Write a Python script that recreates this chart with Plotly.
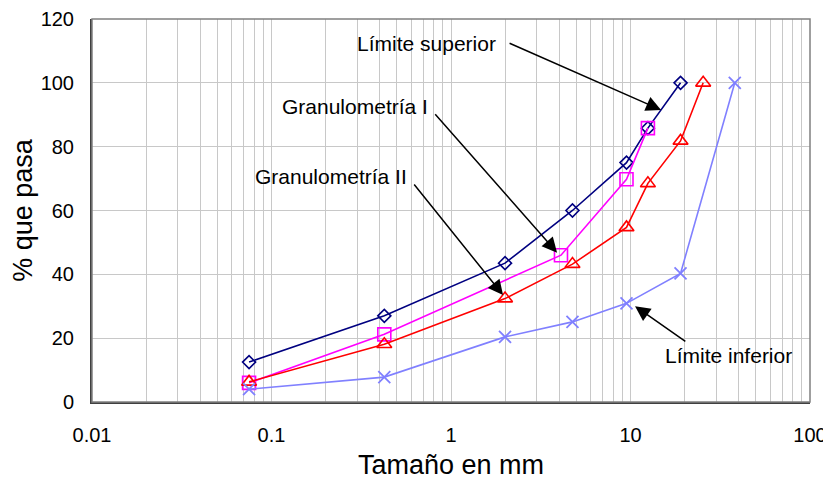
import numpy as np
import plotly.graph_objects as go

# Tamaño de tamiz (mm) y % que pasa
sup_x = [0.075, 0.425, 2, 4.75, 9.5, 12.5, 19]
sup_y = [12.5, 27, 43.5, 60, 75, 85.8, 100]

gran1_x = [0.075, 0.425, 4.1, 9.5, 12.5]
gran1_y = [6, 21.2, 46, 69.8, 85.8]

gran2_x = [0.075, 0.425, 2, 4.75, 9.5, 12.5, 19, 25.4]
gran2_y = [6.3, 18.1, 32.4, 43.2, 54.7, 68.5, 81.8, 100]

inf_x = [0.075, 0.425, 2, 4.75, 9.5, 19, 38.1]
inf_y = [4, 7.8, 20.4, 25.1, 30.9, 40.3, 100]

FONT = "Arial, Liberation Sans, sans-serif"

fig = go.Figure()
fig.add_trace(go.Scatter(x=sup_x, y=sup_y, mode="lines+markers", name="Límite superior",
                         line=dict(color="#000080", width=1.6),
                         marker=dict(symbol="diamond-open", size=10, color="#000080",
                                     line=dict(width=1.6))))
fig.add_trace(go.Scatter(x=gran1_x, y=gran1_y, mode="lines+markers", name="Granulometría I",
                         line=dict(color="#FF00FF", width=1.6),
                         marker=dict(symbol="square-open", size=13, color="#FF00FF",
                                     line=dict(width=1.6))))
fig.add_trace(go.Scatter(x=gran2_x, y=gran2_y, mode="lines+markers", name="Granulometría II",
                         line=dict(color="#FF0000", width=1.6),
                         marker=dict(symbol="triangle-up-open", size=13, color="#FF0000",
                                     line=dict(width=1.6))))
fig.add_trace(go.Scatter(x=inf_x, y=inf_y, mode="lines+markers", name="Límite inferior",
                         line=dict(color="#8080FF", width=1.6),
                         marker=dict(symbol="x-thin-open", size=12, color="#8080FF",
                                     line=dict(width=1.8, color="#8080FF"))))

# etiquetas y flechas (cola -> punta)
labels = [
    ("Límite superior", 1.83, 112.3, 2.08, 112.6, 14.8, 91.5),
    ("Granulometría I", 0.764, 92.5, 0.803, 90.6, 3.9, 46.8),
    ("Granulometría II", 0.583, 70.8, 0.614, 68.6, 1.95, 33.5),
]
for txt, tx, ty, ax, ay, hx, hy in labels:
    fig.add_annotation(x=np.log10(tx), y=ty, text=txt, showarrow=False,
                       xanchor="right", yanchor="middle",
                       font=dict(family=FONT, size=21, color="black"))
    fig.add_annotation(x=np.log10(hx), y=hy, ax=np.log10(ax), ay=ay,
                       axref="x", ayref="y", text="", showarrow=True,
                       arrowhead=2, arrowsize=2, arrowwidth=1.5, arrowcolor="black")

fig.add_annotation(x=np.log10(15.2), y=14.6, text="Límite inferior", showarrow=False,
                   xanchor="left", yanchor="middle",
                   font=dict(family=FONT, size=21, color="black"))
fig.add_annotation(x=np.log10(10.6), y=30, ax=np.log10(20.6), ay=18.7,
                   axref="x", ayref="y", text="", showarrow=True,
                   arrowhead=2, arrowsize=2, arrowwidth=1.5, arrowcolor="black")

# marco gris del área de trazado
fig.add_shape(type="rect", xref="paper", yref="paper", x0=0, y0=0, x1=1, y1=1,
              line=dict(color="#808080", width=1.5), layer="above")

minor_vals = [m * 10.0 ** e for e in range(-2, 2) for m in range(2, 10)]

# la página tiene 8 px de margen en body: figura algo más pequeña
fig.update_layout(
    width=823, height=487,
    margin=dict(l=84, r=21, t=11, b=93),
    paper_bgcolor="white", plot_bgcolor="white",
    showlegend=False,
    font=dict(family=FONT, size=20, color="black"),
    xaxis=dict(type="log", range=[-2, 2], automargin=False,
               tickvals=[0.01, 0.1, 1, 10, 100], ticktext=["0.01", "0.1", "1", "10", "100"],
               showgrid=True, gridcolor="#C8C8C8", gridwidth=1,
               minor=dict(tickvals=minor_vals, showgrid=True, gridcolor="#C8C8C8", gridwidth=1),
               showline=True, linecolor="#404040", linewidth=2,
               ticks="", ticklabelstandoff=14, zeroline=False,
               title=dict(text="Tamaño en mm", font=dict(size=27), standoff=10)),
    yaxis=dict(range=[0, 120], tickvals=[0, 20, 40, 60, 80, 100, 120], automargin=False,
               showgrid=True, gridcolor="#C8C8C8", gridwidth=1,
               showline=True, linecolor="#404040", linewidth=2,
               ticks="", ticklabelstandoff=12, zeroline=False,
               title=dict(text="% que pasa", font=dict(size=27), standoff=0)),
)

fig.write_html("out.html")
